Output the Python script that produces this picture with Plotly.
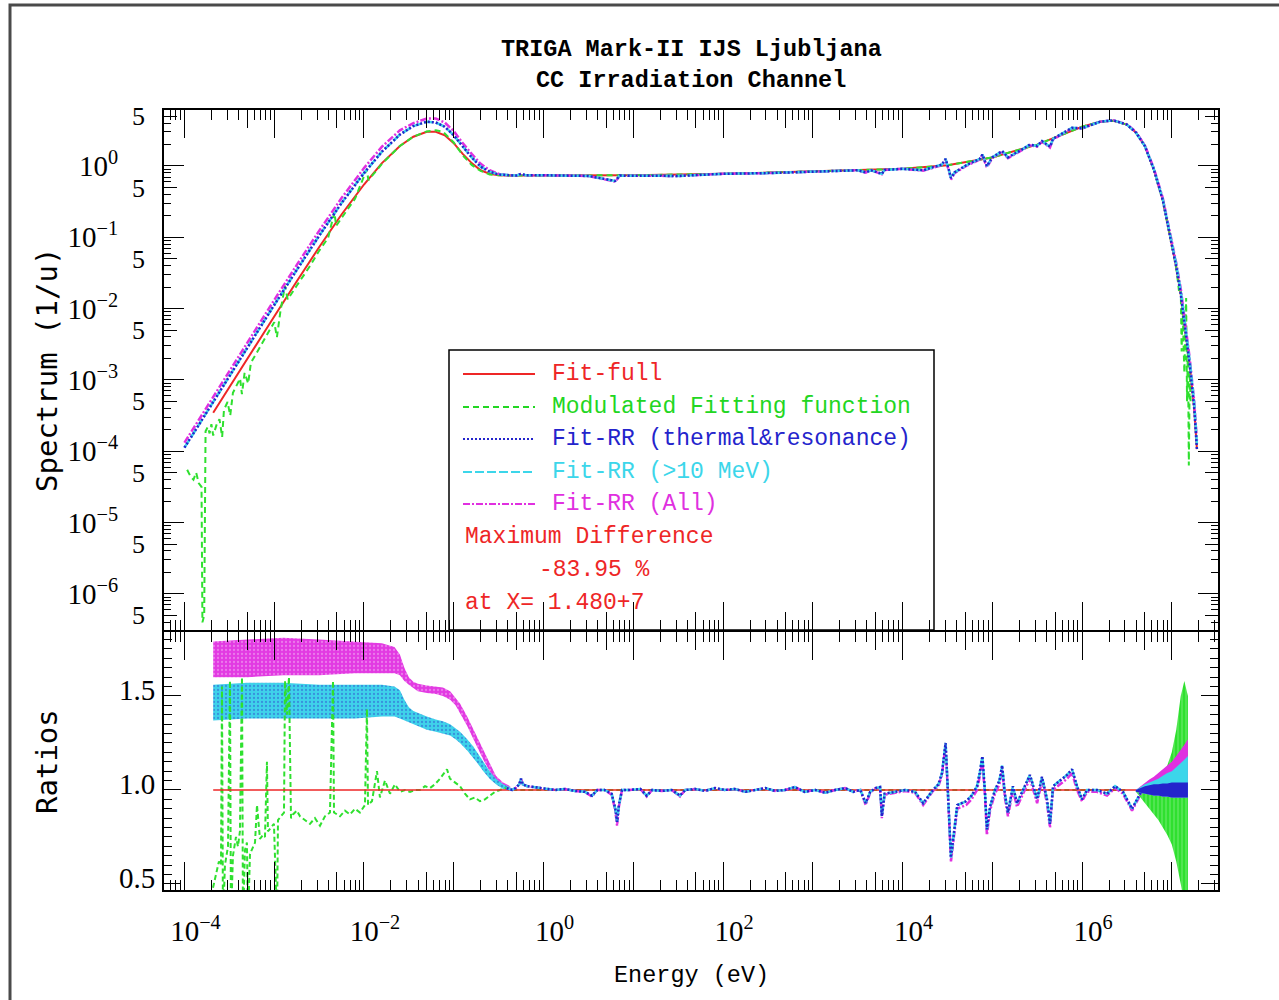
import numpy as np
import plotly.graph_objects as go

# ------------------------------------------------------------------
# Data (energies and spectra as log10 values)
# ------------------------------------------------------------------
# Top panel: Fit-full (red)
full_E_exp = [-3.68, -3.5, -3.25, -3.0, -2.75, -2.5, -2.25, -2.0, -1.8, -1.6,
              -1.45, -1.3, -1.2, -1.1, -1.0, -0.9, -0.8, -0.7, -0.6, -0.5,
              -0.3, 0.0, 1.0, 2.0, 3.0, 3.5, 4.0, 4.5, 5.0, 5.5,
              5.8, 6.0, 6.2, 6.35, 6.5, 6.6, 6.7, 6.8, 6.9, 7.0,
              7.05, 7.1, 7.15, 7.2, 7.25, 7.28]
full_S_exp = [-3.46, -3.10, -2.60, -2.11, -1.62, -1.14, -0.68, -0.26, 0.04, 0.28,
              0.41, 0.48, 0.48, 0.43, 0.32, 0.17, 0.04, -0.06, -0.11, -0.13,
              -0.135, -0.135, -0.13, -0.11, -0.08, -0.06, -0.04, 0.01, 0.12, 0.30,
              0.45, 0.55, 0.62, 0.635, 0.58, 0.47, 0.28, -0.05, -0.48, -1.10,
              -1.42, -1.80, -2.30, -2.80, -3.40, -3.97]

# Top panel: Modulated fitting function (green)
mod_E_exp = [-3.97, -3.93, -3.90, -3.87, -3.84, -3.81, -3.80, -3.78, -3.765, -3.74,
             -3.72, -3.70, -3.68, -3.64, -3.61, -3.58, -3.56, -3.52, -3.49, -3.46,
             -3.42, -3.38, -3.36, -3.33, -3.29, -3.26, -3.2, -3.1, -3.0, -2.97,
             -2.93, -2.88, -2.85, -2.75, -2.6, -2.5, -2.4, -2.33, -2.31, -2.2,
             -2.1, -1.97, -1.95, -1.8, -1.6, -1.45, -1.3, -1.2, -1.12, -1.0,
             -0.9, -0.8, -0.7, -0.6, -0.5, -0.3, 0.0, 1.0, 2.0, 3.0,
             3.5, 4.0, 4.5, 5.0, 5.5, 5.8, 6.0, 6.2, 6.35, 6.5,
             6.6, 6.7, 6.8, 6.9, 7.0, 7.05, 7.08, 7.1, 7.11, 7.12,
             7.14, 7.15, 7.16, 7.17, 7.18, 7.19, 7.2, 7.21]
mod_S_exp = [-4.26, -4.36, -4.40, -4.30, -4.45, -4.50, -6.40, -6.30, -3.72, -3.66,
             -3.75, -3.62, -3.78, -3.62, -3.55, -3.80, -3.42, -3.31, -3.50, -3.18,
             -3.08, -2.98, -3.20, -2.90, -3.05, -2.76, -2.63, -2.40, -2.19, -2.40,
             -2.03, -1.68, -1.87, -1.68, -1.40, -1.19, -1.01, -0.65, -0.84, -0.64,
             -0.46, -0.05, -0.20, 0.03, 0.28, 0.41, 0.485, 0.50, 0.48, 0.33,
             0.15, 0.015, -0.07, -0.12, -0.13, -0.135, -0.135, -0.13, -0.11, -0.08,
             -0.06, -0.04, 0.01, 0.12, 0.30, 0.45, 0.55, 0.62, 0.635, 0.58,
             0.47, 0.28, -0.05, -0.48, -1.10, -1.42, -1.75, -1.70, -2.6, -1.95,
             -2.9, -2.2, -1.85, -3.3, -2.5, -4.2, -2.9, -3.3]

# Top panel: Fit-RR curves (shared energy grid)
rr_E_exp = [-4.0, -3.75, -3.5, -3.25, -3.0, -2.75, -2.5, -2.25, -2.0, -1.8,
            -1.6, -1.45, -1.3, -1.2, -1.1, -1.0, -0.9, -0.8, -0.7, -0.6,
            -0.5, -0.4, -0.3, -0.25, -0.2, 0.0, 0.5, 0.8, 0.85, 1.5,
            2.0, 2.5, 3.0, 3.5, 3.59, 3.65, 3.77, 3.8, 4.0, 4.23,
            4.44, 4.48, 4.52, 4.54, 4.58, 4.71, 4.86, 4.89, 4.94, 5.0,
            5.11, 5.175, 5.343, 5.42, 5.5, 5.554, 5.643, 5.677, 5.889, 6.0,
            6.2, 6.35, 6.5, 6.6, 6.7, 6.8, 6.9, 7.0, 7.05, 7.1,
            7.15, 7.2, 7.25, 7.28]
rr_tr_S_exp = [-3.95, -3.45, -2.94, -2.44, -1.95, -1.46, -0.98, -0.52, -0.10, 0.20,
               0.44, 0.56, 0.62, 0.61, 0.55, 0.43, 0.27, 0.12, -0.01, -0.08,
               -0.12, -0.13, -0.135, -0.11, -0.13, -0.13, -0.14, -0.21, -0.135, -0.14,
               -0.11, -0.10, -0.08, -0.06, -0.09, -0.06, -0.11, -0.055, -0.04, -0.06,
               0.02, 0.10, -0.07, -0.17, -0.09, 0.01, 0.10, 0.16, 0.0, 0.12,
               0.21, 0.12, 0.24, 0.30, 0.28, 0.35, 0.27, 0.38, 0.535, 0.53,
               0.62, 0.64, 0.58, 0.47, 0.28, -0.05, -0.48, -1.10, -1.42, -1.80,
               -2.30, -2.80, -3.40, -3.97]
rr_10_S_exp = [-3.95, -3.45, -2.94, -2.44, -1.95, -1.46, -0.98, -0.52, -0.10, 0.20,
               0.44, 0.56, 0.62, 0.61, 0.55, 0.43, 0.27, 0.12, -0.01, -0.08,
               -0.12, -0.13, -0.135, -0.11, -0.13, -0.13, -0.14, -0.21, -0.135, -0.14,
               -0.11, -0.10, -0.08, -0.06, -0.09, -0.06, -0.11, -0.055, -0.04, -0.06,
               0.02, 0.10, -0.07, -0.17, -0.09, 0.01, 0.10, 0.16, 0.0, 0.12,
               0.21, 0.12, 0.24, 0.30, 0.28, 0.35, 0.27, 0.38, 0.535, 0.53,
               0.62, 0.64, 0.58, 0.47, 0.28, -0.04, -0.47, -1.07, -1.38, -1.75,
               -2.24, -2.73, -3.32, -3.90]
rr_all_S_exp = [-3.88, -3.38, -2.87, -2.37, -1.88, -1.39, -0.91, -0.45, -0.03, 0.27,
                0.50, 0.60, 0.665, 0.665, 0.61, 0.49, 0.32, 0.17, 0.03, -0.06,
                -0.11, -0.13, -0.135, -0.11, -0.13, -0.13, -0.14, -0.22, -0.135, -0.14,
                -0.11, -0.10, -0.08, -0.06, -0.095, -0.06, -0.115, -0.055, -0.04, -0.065,
                0.01, 0.09, -0.08, -0.19, -0.10, 0.0, 0.09, 0.15, -0.02, 0.11,
                0.20, 0.11, 0.23, 0.29, 0.27, 0.34, 0.26, 0.37, 0.53, 0.525,
                0.62, 0.64, 0.585, 0.48, 0.29, -0.03, -0.45, -1.05, -1.36, -1.72,
                -2.20, -2.70, -3.30, -3.85]

# Bottom panel: ratios
ratio_full_E_exp = [-3.68, 7.18]
ratio_full = [1.0, 1.0]

mr_E_exp = [-3.682, -3.649, -3.616, -3.593, -3.582, -3.571, -3.549, -3.515, -3.504, -3.493,
            -3.482, -3.460, -3.426, -3.404, -3.382, -3.359, -3.348, -3.326, -3.304, -3.292,
            -3.270, -3.237, -3.214, -3.192, -3.159, -3.125, -3.103, -3.081, -3.070, -3.036,
            -3.003, -2.969, -2.958, -2.925, -2.891, -2.880, -2.858, -2.836, -2.813, -2.791,
            -2.747, -2.713, -2.657, -2.602, -2.546, -2.490, -2.435, -2.379, -2.345, -2.334,
            -2.267, -2.212, -2.156, -2.100, -2.045, -1.989, -1.967, -1.955, -1.911, -1.855,
            -1.822, -1.766, -1.710, -1.655, -1.599, -1.543, -1.487, -1.432, -1.376, -1.320,
            -1.265, -1.209, -1.153, -1.098, -1.075, -1.042, -0.986, -0.930, -0.875, -0.819,
            -0.763, -0.708, -0.652, -0.596, -0.540, -0.485, -0.429, -0.373, 6.50]
mod_ratio = [0.48, 0.55, 0.62, 0.60, 1.55, 0.30, 0.60, 0.70, 1.10, 1.58,
             0.30, 0.65, 0.75, 0.70, 0.78, 1.60, 0.30, 0.68, 0.72, 0.30,
             0.66, 0.70, 0.72, 0.92, 0.74, 0.76, 0.75, 1.15, 0.78, 0.80,
             0.82, 0.30, 0.84, 0.86, 0.88, 1.58, 1.40, 1.60, 0.85, 0.87,
             0.89, 0.86, 0.84, 0.82, 0.85, 0.81, 0.86, 0.88, 1.58, 0.88,
             0.86, 0.89, 0.87, 0.90, 0.88, 0.92, 1.43, 0.92, 0.94, 1.10,
             0.96, 1.05, 0.98, 1.03, 0.99, 1.00, 0.99, 1.00, 1.00, 1.02,
             1.01, 1.03, 1.06, 1.10, 1.11, 1.06, 1.04, 1.02, 0.98, 0.95,
             0.96, 0.94, 0.95, 0.97, 0.99, 1.00, 1.01, 1.00, 1.00]

band_E_exp = [-3.68, -3.3, -2.9, -2.5, -2.1, -1.8, -1.66, -1.6, -1.55, -1.5,
              -1.45, -1.4, -1.3, -1.2, -1.12, -1.04, -0.98, -0.93, -0.85, -0.78,
              -0.74, -0.67, -0.6, -0.53, -0.45, -0.37]
all_lo = [1.60, 1.60, 1.61, 1.61, 1.62, 1.62, 1.62, 1.61, 1.58, 1.56,
          1.54, 1.525, 1.515, 1.51, 1.50, 1.48, 1.45, 1.41, 1.34, 1.27,
          1.23, 1.16, 1.10, 1.045, 1.01, 1.0]
all_hi = [1.79, 1.80, 1.81, 1.80, 1.79, 1.78, 1.76, 1.72, 1.65, 1.60,
          1.575, 1.565, 1.555, 1.55, 1.545, 1.525, 1.49, 1.46, 1.39, 1.32,
          1.28, 1.21, 1.14, 1.075, 1.04, 1.02]
r10_lo = [1.37, 1.38, 1.38, 1.38, 1.38, 1.39, 1.39, 1.38, 1.37, 1.36,
          1.35, 1.34, 1.32, 1.31, 1.30, 1.29, 1.27, 1.25, 1.21, 1.17,
          1.145, 1.10, 1.06, 1.03, 1.005, 1.0]
r10_hi = [1.56, 1.57, 1.57, 1.56, 1.56, 1.56, 1.55, 1.53, 1.48, 1.44,
          1.42, 1.41, 1.39, 1.375, 1.365, 1.35, 1.33, 1.31, 1.27, 1.23,
          1.20, 1.15, 1.10, 1.06, 1.03, 1.015]

epi_E_exp = [-0.41, -0.35, -0.31, -0.27, -0.25, -0.23, -0.18, -0.09, 0.02, 0.13,
             0.24, 0.35, 0.46, 0.54, 0.60, 0.68, 0.76, 0.80, 0.82, 0.84,
             0.875, 0.96, 1.08, 1.15, 1.21, 1.32, 1.43, 1.52, 1.58, 1.69,
             1.80, 1.91, 2.02, 2.13, 2.25, 2.36, 2.47, 2.58, 2.69, 2.80,
             2.91, 3.03, 3.14, 3.25, 3.36, 3.45, 3.53, 3.59, 3.64, 3.70,
             3.75, 3.77, 3.80, 3.92, 4.03, 4.14, 4.23, 4.34, 4.40, 4.44,
             4.48, 4.50, 4.52, 4.54, 4.58, 4.61, 4.71, 4.77, 4.83, 4.86,
             4.89, 4.92, 4.94, 4.975, 5.03, 5.08, 5.11, 5.14, 5.175, 5.23,
             5.276, 5.343, 5.42, 5.50, 5.554, 5.61, 5.643, 5.677, 5.755, 5.833,
             5.889, 5.944, 6.0, 6.056, 6.167, 6.279, 6.368, 6.457, 6.557, 6.624,
             6.67]
epi_rr = [1.01, 1.00, 1.01, 1.03, 1.06, 1.03, 1.02, 1.015, 1.01, 1.00,
          1.005, 0.995, 0.99, 0.97, 1.0, 1.0, 0.98, 0.90, 0.83, 0.92,
          1.0, 1.0, 1.005, 0.97, 1.0, 0.995, 1.0, 0.97, 1.0, 1.005,
          0.995, 1.01, 1.0, 1.005, 0.99, 1.0, 1.01, 0.995, 1.0, 1.015,
          0.99, 1.0, 0.985, 1.0, 1.01, 0.99, 1.0, 0.93, 0.99, 1.01,
          1.015, 0.86, 0.98, 0.99, 1.0, 0.99, 0.93, 1.0, 1.03, 1.09,
          1.25, 1.05, 0.84, 0.64, 0.80, 0.92, 0.94, 0.97, 1.02, 1.09,
          1.18, 0.98, 0.79, 0.91, 1.0, 1.05, 1.13, 0.98, 0.88, 1.02,
          0.93, 1.0, 1.08, 0.95, 1.07, 0.95, 0.82, 1.02, 1.05, 1.08,
          1.11, 1.02, 0.95, 1.0, 1.0, 0.98, 1.02, 0.99, 0.90, 0.96,
          1.0]
epi_all = [1.01, 1.00, 1.01, 1.03, 1.06, 1.03, 1.02, 1.015, 1.01, 1.00,
           1.005, 0.995, 0.99, 0.965, 1.0, 1.0, 0.975, 0.89, 0.81, 0.91,
           1.0, 1.0, 1.005, 0.965, 1.0, 0.995, 1.0, 0.965, 1.0, 1.005,
           0.995, 1.01, 1.0, 1.005, 0.99, 1.0, 1.01, 0.995, 1.0, 1.015,
           0.99, 1.0, 0.985, 1.0, 1.01, 0.99, 1.0, 0.92, 0.985, 1.01,
           1.01, 0.85, 0.975, 0.985, 0.995, 0.985, 0.92, 0.995, 1.02, 1.08,
           1.24, 1.04, 0.83, 0.62, 0.78, 0.90, 0.92, 0.95, 1.0, 1.07,
           1.16, 0.96, 0.76, 0.89, 0.98, 1.03, 1.11, 0.96, 0.86, 1.0,
           0.91, 0.98, 1.06, 0.93, 1.05, 0.93, 0.80, 1.0, 1.03, 1.06,
           1.09, 1.0, 0.94, 0.99, 0.99, 0.97, 1.01, 0.98, 0.89, 0.95,
           1.0]

fan_E_exp = [6.6, 6.65, 6.7, 6.75, 6.8, 6.85, 6.9, 6.95, 7.0, 7.05, 7.1, 7.14, 7.18]
fan_lo = [0.99, 0.985, 0.98, 0.975, 0.97, 0.97, 0.965, 0.965, 0.96, 0.96, 0.96, 0.96, 0.96]
tr_fan_hi = [1.0, 1.01, 1.02, 1.025, 1.03, 1.03, 1.035, 1.035, 1.04, 1.04, 1.04, 1.04, 1.04]
r10_fan_hi = [1.0, 1.015, 1.03, 1.04, 1.05, 1.06, 1.075, 1.09, 1.10, 1.12, 1.14, 1.16, 1.18]
all_fan_hi = [1.0, 1.02, 1.04, 1.055, 1.07, 1.09, 1.11, 1.13, 1.15, 1.18, 1.21, 1.24, 1.27]
mod_fan_hi = [1.0, 1.0, 1.01, 1.02, 1.03, 1.05, 1.08, 1.13, 1.2, 1.32, 1.5, 1.58, 1.5]
mod_fan_lo = [0.99, 0.96, 0.93, 0.90, 0.87, 0.84, 0.80, 0.76, 0.71, 0.62, 0.5, 0.40, 0.40]

# Axis tick definitions
x_even_decades = [-4, -2, 0, 2, 4, 6]
x_odd_decades = [-3, -1, 1, 3, 5, 7]
y_decades = list(range(-6, 1))
ratio_ticks = [0.5, 1.0, 1.5]

legend_labels = ["Fit-full", "Modulated Fitting function", "Fit-RR (thermal&resonance)",
                 "Fit-RR (>10 MeV)", "Fit-RR (All)"]
note_lines = ["Maximum Difference", "-83.95 %", "at X= 1.480+7"]

# ------------------------------------------------------------------
RED = "#ee2626"
GREEN = "#2fe02f"
BLUE = "#2424cc"
CYAN = "#3cd6ea"
MAGENTA = "#e030e0"


def ev(exps):
    return [10.0 ** v for v in exps]


fig = go.Figure()

# ---------------- top panel ----------------
fig.add_trace(go.Scatter(x=ev(full_E_exp), y=ev(full_S_exp), mode="lines",
                         line=dict(color=RED, width=2), xaxis="x", yaxis="y"))
fig.add_trace(go.Scatter(x=ev(mod_E_exp), y=ev(mod_S_exp), mode="lines",
                         line=dict(color=GREEN, width=2, dash="6px,4px"), xaxis="x", yaxis="y"))
fig.add_trace(go.Scatter(x=ev(rr_E_exp), y=ev(rr_all_S_exp), mode="lines",
                         line=dict(color=MAGENTA, width=2.5, dash="7px,2px,2px,2px"), xaxis="x", yaxis="y"))
fig.add_trace(go.Scatter(x=ev(rr_E_exp), y=ev(rr_10_S_exp), mode="lines",
                         line=dict(color=CYAN, width=2.5, dash="9px,3px"), xaxis="x", yaxis="y"))
fig.add_trace(go.Scatter(x=ev(rr_E_exp), y=ev(rr_tr_S_exp), mode="lines",
                         line=dict(color=BLUE, width=2.5, dash="2px,2px"), xaxis="x", yaxis="y"))


# ---------------- bottom panel ----------------
def band(E_exp, lo, hi, color, pattern=None):
    fig.add_trace(go.Scatter(x=ev(E_exp), y=lo, mode="lines", line=dict(width=0, color=color),
                             xaxis="x2", yaxis="y2", hoverinfo="skip"))
    kw = dict(fillpattern=pattern) if pattern else {}
    fig.add_trace(go.Scatter(x=ev(E_exp), y=hi, mode="lines", line=dict(width=0, color=color),
                             fill="tonexty", fillcolor=color, xaxis="x2", yaxis="y2",
                             hoverinfo="skip", **kw))


band(fan_E_exp, mod_fan_lo, mod_fan_hi, GREEN,
     dict(shape="|", bgcolor=GREEN, fgcolor="#b8f5b8", size=4, solidity=0.25))
band(band_E_exp, all_lo, all_hi, MAGENTA,
     dict(shape=".", bgcolor="#e23ae2", fgcolor="#f4b8f4", size=4, solidity=0.25))
band(band_E_exp, r10_lo, r10_hi, CYAN,
     dict(shape=".", bgcolor="#3fd2ea", fgcolor="#3050d0", size=4, solidity=0.25))

fig.add_trace(go.Scatter(x=ev(mr_E_exp), y=mod_ratio, mode="lines",
                         line=dict(color=GREEN, width=2, dash="5px,3px"), xaxis="x2", yaxis="y2"))
fig.add_trace(go.Scatter(x=ev(ratio_full_E_exp), y=ratio_full, mode="lines",
                         line=dict(color=RED, width=1.5), xaxis="x2", yaxis="y2"))
fig.add_trace(go.Scatter(x=ev(epi_E_exp), y=epi_all, mode="lines",
                         line=dict(color=MAGENTA, width=2.5, dash="7px,2px,2px,2px"), xaxis="x2", yaxis="y2"))
fig.add_trace(go.Scatter(x=ev(epi_E_exp), y=epi_rr, mode="lines",
                         line=dict(color=CYAN, width=2.5, dash="9px,3px"), xaxis="x2", yaxis="y2"))
fig.add_trace(go.Scatter(x=ev(epi_E_exp), y=epi_rr, mode="lines",
                         line=dict(color=BLUE, width=2.5, dash="2px,2px"), xaxis="x2", yaxis="y2"))

band(fan_E_exp, fan_lo, all_fan_hi, MAGENTA)
band(fan_E_exp, fan_lo, r10_fan_hi, CYAN)
band(fan_E_exp, fan_lo, tr_fan_hi, BLUE)

# empty traces so that the overlay tick axes are drawn
for xa, ya in [("x3", "y"), ("x4", "y2"), ("x5", "y"), ("x6", "y2"), ("x", "y3")]:
    fig.add_trace(go.Scatter(x=[None], y=[None], mode="lines", xaxis=xa, yaxis=ya,
                             hoverinfo="skip", showlegend=False))

# ---------------- axes ----------------
XR = [-4.228, 7.515]
YR_TOP = [-6.507, 0.785]
YR_BOT = [0.468, 1.84]


def sup(k):
    return "10<sup>" + ("\u2212" if k < 0 else "") + str(abs(k)) + "</sup>"


x_major = [10.0 ** k for k in x_even_decades]
x_text = [sup(k) for k in x_even_decades]
x_odd = [10.0 ** k for k in x_odd_decades]
x_minor = [m * 10.0 ** k for k in range(-5, 8) for m in (2, 3, 4, 6, 7, 8, 9)
           if XR[0] < np.log10(m * 10.0 ** k) < XR[1]]
x_mid = [5 * 10.0 ** k for k in range(-5, 8) if XR[0] < np.log10(5 * 10.0 ** k) < XR[1]]

y_major = [10.0 ** k for k in y_decades]
y_text = [sup(k) for k in y_decades]
y_minor = [m * 10.0 ** k for k in range(-7, 1) for m in (2, 3, 4, 6, 7, 8, 9)
           if YR_TOP[0] < np.log10(m * 10.0 ** k) < YR_TOP[1]]
y_mid = [5 * 10.0 ** k for k in range(-7, 1) if YR_TOP[0] < np.log10(5 * 10.0 ** k) < YR_TOP[1]]

TICKFONT = dict(family="Liberation Serif", size=29, color="black")
common = dict(showline=True, linecolor="black", linewidth=2, mirror="ticks", ticks="inside",
              tickcolor="black", tickwidth=1, showgrid=False, zeroline=False, fixedrange=True)
plain = dict(showline=False, mirror="ticks", ticks="inside", tickcolor="black", tickwidth=1,
             showgrid=False, zeroline=False, fixedrange=True, showticklabels=False)
xminor = dict(tickmode="array", tickvals=x_minor, ticks="inside", ticklen=10,
              tickcolor="black", tickwidth=1, showgrid=False)

TOP_DOM = [260 / 780, 1]
BOT_DOM = [0, 258 / 780]

fig.update_layout(
    xaxis=dict(common, type="log", range=XR, domain=[0, 1], anchor="y",
               tickmode="array", tickvals=x_major, ticktext=x_text, ticklen=28,
               showticklabels=False, minor=xminor),
    xaxis2=dict(common, type="log", range=XR, domain=[0, 1], anchor="y2",
                tickmode="array", tickvals=x_major, ticktext=x_text, ticklen=28,
                showticklabels=True, tickfont=TICKFONT, ticklabelstandoff=14, ticklabelshift=11,
                minor=xminor),
    xaxis3=dict(plain, type="log", range=XR, overlaying="x", anchor="y",
                tickmode="array", tickvals=x_odd, ticklen=28),
    xaxis4=dict(plain, type="log", range=XR, overlaying="x2", anchor="y2",
                tickmode="array", tickvals=x_odd, ticklen=28),
    xaxis5=dict(plain, type="log", range=XR, overlaying="x", anchor="y",
                tickmode="array", tickvals=x_mid, ticklen=18),
    xaxis6=dict(plain, type="log", range=XR, overlaying="x2", anchor="y2",
                tickmode="array", tickvals=x_mid, ticklen=18),
    yaxis=dict(common, type="log", range=YR_TOP, domain=TOP_DOM, anchor="x",
               tickmode="array", tickvals=y_major, ticktext=y_text, ticklen=20,
               tickfont=TICKFONT, ticklabelstandoff=38,
               minor=dict(tickmode="array", tickvals=y_minor, ticks="inside", ticklen=7,
                          tickcolor="black", tickwidth=1, showgrid=False)),
    yaxis3=dict(plain, type="log", range=YR_TOP, overlaying="y", anchor="x", side="left",
                tickmode="array", tickvals=y_mid, ticktext=["5"] * len(y_mid), ticklen=13,
                showticklabels=True, tickfont=dict(family="Liberation Serif", size=26, color="black"),
                ticklabelstandoff=18),
    yaxis2=dict(common, type="linear", range=YR_BOT, domain=BOT_DOM, anchor="x2",
                tickmode="array", tickvals=ratio_ticks, ticktext=["%.1f" % v for v in ratio_ticks],
                ticklen=17, tickfont=TICKFONT, ticklabelstandoff=1, ticklabelshift=-6,
                minor=dict(dtick=0.05, ticks="inside", ticklen=8, tickcolor="black",
                           tickwidth=1, showgrid=False)),
)


# ---------------- text, legend box, frame ----------------
def px(xp):
    return (xp - 164) / 1054


def py(yp):
    return (890 - yp) / 780


MONO = "Liberation Mono"
annotations = [
    dict(text="<b>TRIGA Mark-II IJS Ljubljana</b>", x=0.5, y=py(49), font=dict(family=MONO, size=23.5, color="black")),
    dict(text="<b>CC Irradiation Channel</b>", x=0.5, y=py(81), font=dict(family=MONO, size=23.5, color="black")),
    dict(text="Spectrum (1/u)", x=px(47), y=py(370), textangle=-90,
         font=dict(family="DejaVu Sans Mono", size=29, color="black")),
    dict(text="Ratios", x=px(47), y=py(762), textangle=-90,
         font=dict(family="DejaVu Sans Mono", size=29, color="black")),
    dict(text="Energy (eV)", x=0.5, y=py(975), font=dict(family=MONO, size=23.5, color="black")),
]
for a in annotations:
    a.update(xref="paper", yref="paper", showarrow=False, xanchor="center", yanchor="middle")

row_y = [374, 407, 439, 472, 504]
row_colors = [RED, "#22d622", BLUE, CYAN, MAGENTA]
row_dash = ["solid", "6px,4px", "2px,2px", "9px,3px", "7px,2px,2px,2px"]
shapes = [
    dict(type="rect", xref="paper", yref="paper", x0=px(10), x1=px(1295), y0=py(1015), y1=py(5),
         line=dict(color="#4a4a4a", width=3), layer="above"),
    dict(type="rect", xref="paper", yref="paper", x0=px(449), x1=px(934), y0=py(630), y1=py(350),
         line=dict(color="black", width=1.5), fillcolor="rgba(0,0,0,0)", layer="above"),
]
for label, yy, col, dsh in zip(legend_labels, row_y, row_colors, row_dash):
    shapes.append(dict(type="line", xref="paper", yref="paper", x0=px(463), x1=px(535),
                       y0=py(yy), y1=py(yy), line=dict(color=col, width=2, dash=dsh), layer="above"))
    annotations.append(dict(text=label, x=px(550), y=py(yy), xref="paper", yref="paper",
                            showarrow=False, xanchor="left", yanchor="middle",
                            font=dict(family=MONO, size=23, color=col)))
for txt, xx, yy in zip(note_lines, [463, 537, 463], [537, 570, 603]):
    annotations.append(dict(text=txt, x=px(xx), y=py(yy), xref="paper", yref="paper",
                            showarrow=False, xanchor="left", yanchor="middle",
                            font=dict(family=MONO, size=23, color=RED)))

fig.update_layout(
    width=1279, height=1000,
    margin=dict(l=164, r=61, t=110, b=110),
    paper_bgcolor="white", plot_bgcolor="white",
    showlegend=False,
    annotations=annotations,
    shapes=shapes,
)

fig.write_html("out.html")
